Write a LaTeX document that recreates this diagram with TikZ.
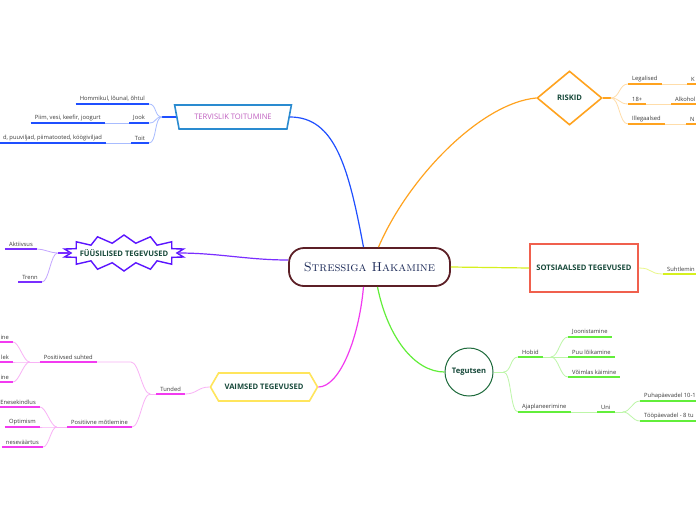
\documentclass[tikz,border=0pt]{standalone}
\usepackage{fontspec}
\setsansfont{Open Sans}
\usepackage{tikz}
\usetikzlibrary{shapes,shapes.geometric,shapes.symbols,positioning}

\definecolor{blueD}{HTML}{1F4FFF}
\definecolor{blueL}{HTML}{A8BCFF}
\definecolor{violD}{HTML}{7A2EFF}
\definecolor{violL}{HTML}{C4A6FF}
\definecolor{magD}{HTML}{F23BF0}
\definecolor{magL}{HTML}{F9B2F6}
\definecolor{oraD}{HTML}{FFA31F}
\definecolor{oraL}{HTML}{FFDDAA}
\definecolor{limeD}{HTML}{D6F01E}
\definecolor{limeL}{HTML}{EAF78A}
\definecolor{grnD}{HTML}{62EE3A}
\definecolor{grnL}{HTML}{BDF6A8}
\definecolor{topictxt}{HTML}{17493A}
\definecolor{leaftxt}{HTML}{3A3A3A}
\definecolor{hakline}{HTML}{5C1F26}
\definecolor{haktxt}{HTML}{1C2A58}
\definecolor{trapline}{HTML}{2A8BD0}
\definecolor{traptxt}{HTML}{C060C0}
\definecolor{burstline}{HTML}{5B14FF}
\definecolor{hexline}{HTML}{FFE55C}
\definecolor{sotsline}{HTML}{F0604D}
\definecolor{tegline}{HTML}{1E6B3C}

\tikzset{
  topicfont/.style={text=topictxt, font=\sffamily\bfseries\fontsize{7.6}{9}\selectfont},
  topic/.style={draw, line width=1.6pt, inner sep=0pt, topicfont},
  lbl/.style={inner xsep=4pt, inner ysep=2.2pt, text=leaftxt,
    font=\sffamily\fontsize{5.8}{7}\selectfont},
  leaf/.style={lbl, anchor=south west},
  leafl/.style={lbl, anchor=south east},
  ul/.style={line width=1.5pt},
  lnk/.style={line width=0.8pt},
  stub/.style={line width=1.2pt},
  main/.style={line width=1.2pt},
}

\begin{document}
\begin{tikzpicture}[x=1pt,y=-1pt]
\useasboundingbox[fill=white] (0,0) rectangle (696,520);
\clip (0,0) rectangle (696,520);

% centre
\node[draw=hakline, line width=1.8pt, rounded corners=15pt, minimum width=161pt,
  minimum height=38pt, inner sep=0pt, text=haktxt,
  font=\rmfamily\scshape\fontsize{13}{15}\selectfont] (hak) at (369.5,267) {Stressiga Hakamine};

% main topics
\node[topic, trapezium, trapezium stretches=true, shape border rotate=180,
  draw=trapline, text=traptxt, font=\sffamily\fontsize{7.6}{9}\selectfont,
  minimum width=117pt, minimum height=24pt] (tt) at (233,117) {TERVISLIK TOITUMINE};
\node[topic, starburst, starburst points=14, starburst point height=8pt, random starburst=0,
  draw=burstline, line width=1.4pt, minimum width=122pt, minimum height=36pt,
  label={[topicfont]center:FÜÜSILISED TEGEVUSED}] (fyys) at (124,253) {};
\node[topic, signal, signal to=east and west, signal pointer angle=120, draw=hexline,
  minimum width=107pt, minimum height=28pt] (vaim) at (264,387) {VAIMSED TEGEVUSED};
\node[topic, diamond, draw=oraD, minimum width=65pt, minimum height=54pt] (risk) at (569.5,98) {RISKID};
\node[topic, rectangle, draw=sotsline, minimum width=108pt, minimum height=48pt] (sots) at (584,268) {SOTSIAALSED TEGEVUSED};
\node[topic, circle, draw=tegline, line width=1pt, minimum size=48pt] (teg) at (469,372) {Tegutsen};

% centre to topics
\draw[main, blueD] ([xshift=-6pt]hak.north) .. controls +(-15,-80) and +(45,0) .. (tt.east);
\draw[main, oraD] ([xshift=9pt]hak.north) .. controls +(30,-70) and +(-55,5) .. (risk.west);
\draw[main, violD] ([yshift=7pt]hak.west) .. controls +(-40,0) and +(40,0) .. (fyys.east);
\draw[main, magD] ([xshift=-6pt]hak.south) .. controls +(-5,55) and +(20,0) .. (vaim.east);
\draw[main, grnD] ([xshift=8pt]hak.south) .. controls +(10,50) and +(-30,0) .. (teg.west);
\draw[main, limeD] (hak.east) .. controls +(40,0) and +(-40,0) .. (sots.west);

% TERVISLIK TOITUMINE
\node[leafl] (homm) at (149,104) {Hommikul, lõunal, õhtul};
\node[leafl] (jook) at (149,123) {Jook};
\node[leafl] (piim) at (105,123) {Piim, vesi, keefir, joogurt};
\node[leafl] (toit) at (149,143) {Toit};
\node[leafl] (puuv) at (106,143) {d, puuviljad, piimatooted, köögiviljad};
\draw[stub, blueD] (tt.west) -- ++(-14,0) coordinate (tj);
\foreach \c in {homm,jook,toit}
  \draw[lnk, blueL] (tj) .. controls +(-8,0) and +(8,0) .. (\c.south east);
\draw[lnk, blueL] (jook.south west) -- (piim.south east);
\draw[lnk, blueL] (toit.south west) -- (puuv.south east);
\foreach \n in {homm,jook,piim,toit,puuv}
  \draw[ul, blueD] (\n.south west) -- (\n.south east);

% FUUSILISED TEGEVUSED
\node[leafl] (akt) at (37,249) {Aktiivsus};
\node[leafl] (trenn) at (42,282) {Trenn};
\draw[stub, violD] (fyys.west) -- ++(-12,0) coordinate (fj);
\foreach \c in {akt,trenn}
  \draw[lnk, violL] (fj) .. controls +(-7,0) and +(7,0) .. (\c.south east);
\foreach \n in {akt,trenn}
  \draw[ul, violD] (\n.south west) -- (\n.south east);

% VAIMSED TEGEVUSED
\node[leafl] (tund) at (185,394) {Tunded};
\node[leafl] (psuh) at (97,362) {Positiivsed suhted};
\node[leafl] (pmot) at (132,427) {Positiivne mõtlemine};
\node[leafl] (ine1) at (13,342) {ine};
\node[leafl] (lek) at (13,362) {lek};
\node[leafl] (ine2) at (13,382) {ine};
\node[leafl] (ekin) at (40,407) {Enesekindlus};
\node[leafl] (opt) at (40,427) {Optimism};
\node[leafl] (ever) at (43,447) {neseväärtus};
\draw[lnk, magL] (vaim.west) .. controls +(-12,0) and +(12,0) .. (tund.south east);
\draw[lnk, magL] (tund.south west) -- ++(-6,0) coordinate (mj);
\draw[lnk, magL] (mj) .. controls +(-8,0) and +(8,0) .. ([xshift=34pt]psuh.south east) -- (psuh.south east);
\draw[lnk, magL] (mj) .. controls +(-8,0) and +(8,0) .. (pmot.south east);
\draw[lnk, magL] (psuh.south west) -- ++(-10,0) coordinate (sj);
\foreach \c in {ine1,lek,ine2}
  \draw[lnk, magL] (sj) .. controls +(-6,0) and +(6,0) .. (\c.south east);
\draw[lnk, magL] (pmot.south west) -- ++(-10,0) coordinate (pj);
\foreach \c in {ekin,opt,ever}
  \draw[lnk, magL] (pj) .. controls +(-6,0) and +(6,0) .. (\c.south east);
\foreach \n in {tund,psuh,pmot,ine1,lek,ine2,ekin,opt,ever}
  \draw[ul, magD] (\n.south west) -- (\n.south east);

% RISKID
\node[leaf] (leg) at (628,84) {Legalised};
\node[leaf] (kk) at (687,84) {K};
\node[leaf] (p18) at (628,104) {18+};
\node[leaf] (alk) at (671,104) {Alkohol};
\node[leaf] (ill) at (628,124) {Illegaalsed};
\node[leaf] (nn) at (686,124) {N};
\draw[stub, oraD] (risk.east) -- ++(8,0) coordinate (rj);
\foreach \c in {leg,p18,ill}
  \draw[lnk, oraL] (rj) .. controls +(9,0) and +(-9,0) .. (\c.south west);
\draw[lnk, oraL] (leg.south east) -- (kk.south west);
\draw[lnk, oraL] (p18.south east) -- (alk.south west);
\draw[lnk, oraL] (ill.south east) -- (nn.south west);
\foreach \n in {leg,kk,p18,alk,ill,nn}
  \draw[ul, oraD] (\n.south west) -- (\n.south east);

% SOTSIAALSED TEGEVUSED
\node[leaf] (suht) at (663,274) {Suhtlemin};
\draw[lnk, limeL] (sots.east) .. controls +(14,0) and +(-14,0) .. (suht.south west);
\draw[ul, limeD] (suht.south west) -- (suht.south east);

% Tegutsen
\node[leaf] (hob) at (518,357) {Hobid};
\node[leaf] (joon) at (568,337) {Joonistamine};
\node[leaf] (puu) at (568,357) {Puu lõikamine};
\node[leaf] (voim) at (568,377) {Võimlas käimine};
\node[leaf] (aja) at (518,412) {Ajaplaneerimine};
\node[leaf] (uni) at (597,412) {Uni};
\node[leaf] (puha) at (640,401) {Puhapäevadel 10-1};
\node[leaf] (too) at (640,421) {Tööpäevadel - 8 tu};
\draw[lnk, grnL] (teg.east) -- ++(10,0) coordinate (gj);
\foreach \c in {hob,aja}
  \draw[lnk, grnL] (gj) .. controls +(8,0) and +(-8,0) .. (\c.south west);
\draw[lnk, grnL] (hob.south east) -- ++(8,0) coordinate (hj);
\foreach \c in {joon,puu,voim}
  \draw[lnk, grnL] (hj) .. controls +(8,0) and +(-8,0) .. (\c.south west);
\draw[lnk, grnL] (aja.south east) -- (uni.south west);
\draw[lnk, grnL] (uni.south east) -- ++(8,0) coordinate (uj);
\foreach \c in {puha,too}
  \draw[lnk, grnL] (uj) .. controls +(8,0) and +(-8,0) .. (\c.south west);
\foreach \n in {hob,joon,puu,voim,aja,uni,puha,too}
  \draw[ul, grnD] (\n.south west) -- (\n.south east);

\end{tikzpicture}
\end{document}
